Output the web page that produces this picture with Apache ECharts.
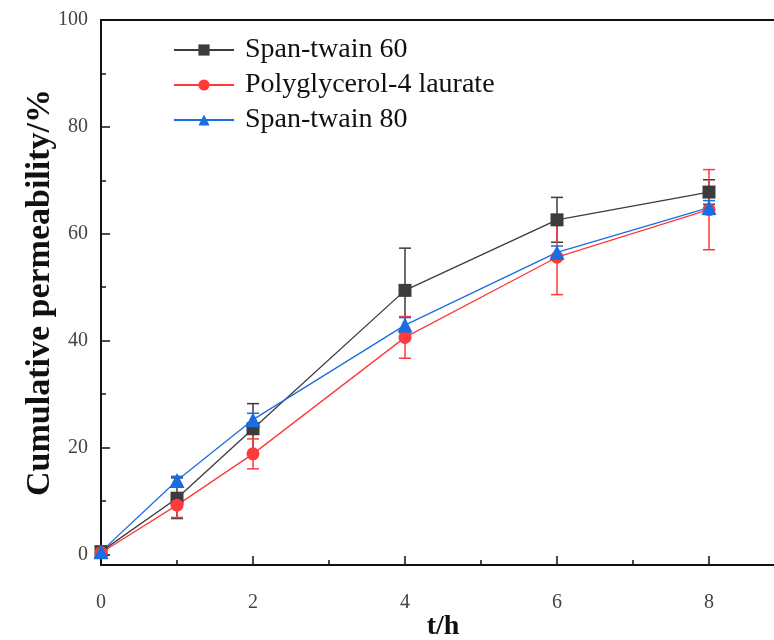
<!DOCTYPE html>
<html>
<head>
<meta charset="utf-8">
<script src="https://cdn.jsdelivr.net/npm/echarts@6/dist/echarts.min.js"></script>
<style>
  html, body { margin: 0; padding: 0; background: #fff; }
  #main { width: 774px; height: 640px; }
</style>
</head>
<body>
<div id="main"></div>
<script>
// 时间点 (h)
var times = [0, 1, 2, 4, 6, 8];
// 累积渗透率
var span60 = [0.5, 10.5, 23.5, 49.4, 62.6, 67.8];
var poly4 = [0.3, 9.2, 18.8, 40.6, 55.6, 64.5];
var span80 = [0.5, 13.8, 25.2, 42.9, 56.5, 64.9];
// 误差
var span60Err = [0, 3.8, 4.7, 7.9, 4.2, 2.3];
var poly4Err = [0, 2.3, 2.8, 3.9, 7.0, 7.5];
var span80Err = [0, 0.8, 1.2, 1.4, 1.2, 1.3];
// 刻度
var xMajor = [0, 2, 4, 6, 8];
var xMinor = [1, 3, 5, 7];
var yMajor = [0, 20, 40, 60, 80, 100];
var yMinor = [10, 30, 50, 70, 90];

var names = ['Span-twain 60', 'Polyglycerol-4 laurate', 'Span-twain 80'];
var colors = ['#3c3c3c', '#ff3a3a', '#1a6de0'];
var symbols = ['rect', 'circle', 'triangle'];
var values = [span60, poly4, span80];
var errs = [span60Err, poly4Err, span80Err];

var serif = '"Liberation Serif", "Times New Roman", serif';

function pairs(arr) {
    var out = [];
    for (var i = 0; i < times.length; i++) out.push([times[i], arr[i]]);
    return out;
}
function errData(arr, err) {
    var out = [];
    for (var i = 0; i < times.length; i++) {
        if (err[i] > 0) out.push([times[i], arr[i] - err[i], arr[i] + err[i]]);
    }
    return out;
}

function errRender(color) {
    return function (params, api) {
        var x = api.value(0);
        var top = api.coord([x, api.value(2)]);
        var bot = api.coord([x, api.value(1)]);
        var w = 6;
        var st = { stroke: color, lineWidth: 1.5 };
        return {
            type: 'group',
            children: [
                { type: 'line', shape: { x1: top[0], y1: top[1], x2: bot[0], y2: bot[1] }, style: st },
                { type: 'line', shape: { x1: top[0] - w, y1: top[1], x2: top[0] + w, y2: top[1] }, style: st },
                { type: 'line', shape: { x1: bot[0] - w, y1: bot[1], x2: bot[0] + w, y2: bot[1] }, style: st }
            ]
        };
    };
}

var series = [];
for (var k = 0; k < 3; k++) {
    series.push({
        name: names[k] + ' err',
        type: 'custom',
        renderItem: errRender(colors[k]),
        data: errData(values[k], errs[k]),
        encode: { x: 0, y: [1, 2] },
        z: 2,
        silent: true
    });
}
for (var k = 0; k < 3; k++) {
    series.push({
        name: names[k],
        type: 'line',
        data: pairs(values[k]),
        symbol: symbols[k],
        symbolSize: k === 2 ? 15 : 13,
        color: colors[k],
        lineStyle: { width: 1.3, color: colors[k] },
        itemStyle: { color: colors[k] },
        z: 3,
        animation: false
    });
}

var chart = echarts.init(document.getElementById('main'));
var option = {
    animation: false,
    grid: {
        left: 101, top: 20, width: 684, height: 545,
        outerBoundsMode: 'none',
        show: true, borderColor: '#111', borderWidth: 2, backgroundColor: 'transparent'
    },
    legend: {
        data: names,
        orient: 'vertical',
        left: 168, top: 30,
        itemWidth: 60, itemHeight: 14, itemGap: 5,
        textStyle: { fontFamily: serif, fontSize: 28, lineHeight: 30, color: '#111', padding: [0, 0, 0, 6] }
    },
    xAxis: [{
        type: 'value', min: 0, max: 9,
        name: 't/h', nameLocation: 'middle', nameGap: 48, nameMoveOverlap: false,
        nameTextStyle: { fontFamily: serif, fontSize: 28, fontWeight: 'bold', color: '#111' },
        axisLine: { onZero: false, lineStyle: { color: '#111', width: 2 } },
        axisTick: { inside: true, length: 9, customValues: xMajor, lineStyle: { color: '#111', width: 1.5 } },
        axisLabel: { customValues: xMajor, margin: 28, fontFamily: serif, fontSize: 20, color: '#444' },
        splitLine: { show: false }
    }, {
        type: 'value', min: 0, max: 9, position: 'bottom',
        axisLine: { show: false, onZero: false },
        axisTick: { inside: true, length: 5, customValues: xMinor, lineStyle: { color: '#111', width: 1.5 } },
        axisLabel: { show: false },
        splitLine: { show: false }
    }],
    yAxis: [{
        type: 'value', min: -2, max: 100,
        name: 'Cumulative permeability/%', nameLocation: 'middle', nameGap: 44, nameMoveOverlap: false,
        nameTextStyle: { fontFamily: serif, fontSize: 34, fontWeight: 'bold', color: '#111' },
        axisLine: { show: true, onZero: false, lineStyle: { color: '#111', width: 2 } },
        axisTick: { show: true, inside: true, length: 9, customValues: yMajor, lineStyle: { color: '#111', width: 1.5 } },
        axisLabel: { customValues: yMajor, margin: 13, fontFamily: serif, fontSize: 20, color: '#444' },
        splitLine: { show: false }
    }, {
        type: 'value', min: -2, max: 100, position: 'left',
        axisLine: { show: false, onZero: false },
        axisTick: { show: true, inside: true, length: 5, customValues: yMinor, lineStyle: { color: '#111', width: 1.5 } },
        axisLabel: { show: false },
        splitLine: { show: false }
    }],
    series: series
};
chart.setOption(option);
</script>
</body>
</html>
